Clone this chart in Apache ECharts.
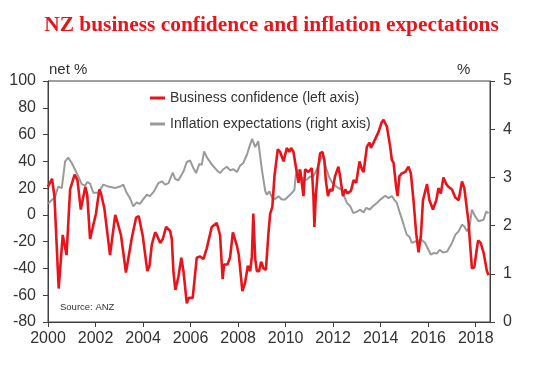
<!DOCTYPE html>
<html>
<head>
<meta charset="utf-8">
<script src="https://cdn.jsdelivr.net/npm/echarts@6/dist/echarts.min.js"></script>
<style>html,body{margin:0;padding:0;background:#fff}#c{width:543px;height:369px}</style>
</head>
<body>
<div id="c"></div>
<script>
// Business confidence (net %, left axis) — decimal years and values
const bcYears = [2000.00,2000.17,2000.27,2000.45,2000.62,2000.78,2000.93,2001.12,2001.24,2001.38,2001.46,2001.57,2001.65,2001.77,2001.85,2002.02,2002.16,2002.23,2002.37,2002.61,2002.83,2002.93,2003.07,2003.28,2003.35,2003.54,2003.71,2003.82,2003.99,2004.18,2004.27,2004.37,2004.51,2004.58,2004.72,2004.83,2004.97,2005.14,2005.21,2005.28,2005.36,2005.49,2005.61,2005.70,2005.84,2005.92,2006.09,2006.26,2006.40,2006.54,2006.68,2006.89,2007.10,2007.24,2007.35,2007.41,2007.55,2007.66,2007.78,2007.95,2008.03,2008.18,2008.29,2008.41,2008.51,2008.58,2008.64,2008.72,2008.79,2008.88,2008.97,2009.07,2009.17,2009.28,2009.35,2009.44,2009.53,2009.67,2009.77,2009.91,2010.05,2010.15,2010.23,2010.33,2010.43,2010.54,2010.61,2010.68,2010.75,2010.82,2010.96,2011.10,2011.17,2011.21,2011.27,2011.36,2011.45,2011.55,2011.63,2011.69,2011.78,2011.87,2011.97,2012.08,2012.22,2012.29,2012.41,2012.51,2012.60,2012.75,2012.86,2012.97,2013.11,2013.21,2013.28,2013.42,2013.53,2013.59,2013.70,2013.77,2013.91,2014.04,2014.12,2014.26,2014.40,2014.47,2014.54,2014.65,2014.71,2014.79,2014.89,2015.03,2015.17,2015.27,2015.38,2015.49,2015.59,2015.69,2015.78,2015.95,2016.05,2016.20,2016.34,2016.43,2016.53,2016.64,2016.76,2016.85,2017.00,2017.14,2017.28,2017.42,2017.52,2017.60,2017.70,2017.77,2017.84,2017.94,2018.04,2018.10,2018.21,2018.34,2018.47,2018.54];
const bcValues = [21,27,14,-55,-15,-30,19,30,26,4,4,21,15,-18,-17,1,19,16,5,-30,0,-6,-15,-43,-43,-16,-2,-1,-16,-42,-38,-22,-13,-15,-21,-18,-9,-12,-18,-43,-56,-46,-32,-42,-66,-62,-62,-32,-31,-33,-25,-9,-6,-15,-48,-37,-37,-32,-13,-23,-30,-57,-51,-38,-42,-31,1,-33,-42,-42,-35,-40,-41,-13,1,6,29,49,47,40,50,47,50,47,36,24,34,24,14,34,32,35,14,-9,14,34,46,47,41,26,14,19,18,29,36,29,14,19,16,18,26,24,40,34,32,51,54,50,54,55,62,69,71,66,51,41,39,21,14,29,31,32,36,31,11,-13,-28,-16,11,23,11,4,11,20,16,28,23,21,19,13,11,25,20,19,-6,-24,-40,-39,-26,-19,-21,-29,-42,-45];

// Inflation expectations (%, right axis)
const ieYears = [2000.01,2000.16,2000.29,2000.43,2000.58,2000.72,2000.85,2001.00,2001.21,2001.42,2001.56,2001.65,2001.77,2001.91,2002.12,2002.33,2002.54,2002.82,2003.03,2003.17,2003.31,2003.45,2003.59,2003.73,2003.87,2004.01,2004.16,2004.29,2004.46,2004.64,2004.79,2004.93,2005.07,2005.25,2005.35,2005.49,2005.70,2005.84,2005.98,2006.12,2006.23,2006.37,2006.47,2006.57,2006.68,2006.89,2007.10,2007.24,2007.38,2007.52,2007.66,2007.80,2007.95,2008.08,2008.22,2008.37,2008.49,2008.59,2008.72,2008.79,2008.85,2009.00,2009.14,2009.21,2009.32,2009.42,2009.56,2009.70,2009.84,2009.98,2010.12,2010.29,2010.37,2010.43,2010.54,2010.65,2010.75,2010.89,2011.03,2011.13,2011.24,2011.36,2011.55,2011.63,2011.71,2011.82,2011.95,2012.08,2012.22,2012.37,2012.46,2012.58,2012.72,2012.85,2013.00,2013.14,2013.28,2013.39,2013.53,2013.67,2013.84,2014.01,2014.19,2014.33,2014.47,2014.57,2014.68,2014.79,2014.89,2014.99,2015.10,2015.21,2015.31,2015.45,2015.59,2015.70,2015.87,2016.01,2016.11,2016.22,2016.37,2016.48,2016.62,2016.79,2017.00,2017.14,2017.28,2017.42,2017.52,2017.63,2017.74,2017.84,2017.98,2018.12,2018.33,2018.44,2018.54];
const ieValues = [2.46,2.53,2.58,2.81,2.78,3.33,3.41,3.30,3.09,2.86,2.83,2.90,2.87,2.68,2.68,2.85,2.81,2.78,2.81,2.85,2.68,2.57,2.40,2.48,2.45,2.55,2.64,2.61,2.71,2.88,2.92,2.85,2.88,3.10,2.97,2.94,3.12,3.32,3.35,3.19,3.09,3.28,3.26,3.54,3.42,3.27,3.15,3.09,3.17,3.22,3.15,3.17,3.11,3.24,3.30,3.47,3.66,3.80,3.63,3.61,3.75,3.16,2.72,2.64,2.71,2.59,2.55,2.61,2.54,2.54,2.61,2.69,2.74,3.06,3.16,3.02,2.95,2.95,3.02,2.99,3.09,3.23,3.46,3.33,3.19,3.02,2.90,2.83,2.78,2.74,2.61,2.47,2.40,2.26,2.29,2.33,2.27,2.37,2.33,2.40,2.47,2.55,2.62,2.57,2.61,2.54,2.47,2.29,2.14,1.98,1.81,1.77,1.64,1.67,1.69,1.71,1.64,1.50,1.40,1.43,1.42,1.50,1.44,1.46,1.64,1.81,1.88,2.02,1.98,1.88,1.98,2.33,2.19,2.09,2.12,2.29,2.26];

const xTicks = {min: 2000, max: 2018.6, interval: 2};
const leftTicks = {min: -80, max: 100, interval: 20};
const rightTicks = {min: 0, max: 5, interval: 1};

const axisColor = '#404040';
const labelColor = '#333';
const sans = 'Liberation Sans, Arial, sans-serif';

const chart = echarts.init(document.getElementById('c'), null, {renderer: 'canvas'});
chart.setOption({
  animation: false,
  backgroundColor: '#fff',
  title: {
    text: 'NZ business confidence and inflation expectations',
    left: 'center', top: 10,
    textStyle: {fontFamily: 'Liberation Serif, Times New Roman, serif', fontWeight: 'bold', fontSize: 21.4, color: '#e8141b'}
  },
  grid: {left: 48, right: 53, top: 81, bottom: 47, show: true, borderColor: axisColor, borderWidth: 1, backgroundColor: 'transparent'},
  legend: {
    orient: 'vertical', left: 145, top: 86, itemWidth: 15, itemHeight: 3, itemGap: 12,
    textStyle: {fontFamily: sans, fontSize: 14, color: labelColor},
    data: [
      {name: 'Business confidence (left axis)', icon: 'rect'},
      {name: 'Inflation expectations (right axis)', icon: 'rect'}
    ]
  },
  xAxis: {
    type: 'value', min: xTicks.min, max: xTicks.max, interval: xTicks.interval,
    axisLine: {onZero: false, lineStyle: {color: axisColor}},
    axisTick: {show: true, length: 5, lineStyle: {color: axisColor}},
    splitLine: {show: false},
    axisLabel: {fontFamily: sans, fontSize: 16, color: labelColor, margin: 9, formatter: v => String(v), showMaxLabel: false}
  },
  yAxis: [
    {
      type: 'value', min: leftTicks.min, max: leftTicks.max, interval: leftTicks.interval,
      axisLine: {show: true, lineStyle: {color: axisColor}},
      axisTick: {show: true, length: 5, lineStyle: {color: axisColor}},
      splitLine: {show: false},
      axisLabel: {fontFamily: sans, fontSize: 16, color: labelColor, margin: 12}
    },
    {
      type: 'value', position: 'right', min: rightTicks.min, max: rightTicks.max, interval: rightTicks.interval,
      axisLine: {show: true, lineStyle: {color: axisColor}},
      axisTick: {show: true, length: 5, lineStyle: {color: axisColor}},
      splitLine: {show: false},
      axisLabel: {fontFamily: sans, fontSize: 16, color: labelColor, margin: 13}
    }
  ],
  graphic: [
    {type: 'text', left: 49, top: 62, style: {text: 'net %', font: '15px Liberation Sans, Arial, sans-serif', fill: labelColor}},
    {type: 'text', left: 457, top: 62, style: {text: '%', font: '15px Liberation Sans, Arial, sans-serif', fill: labelColor}},
    {type: 'text', left: 60, top: 302, style: {text: 'Source: ANZ', font: '9.5px Liberation Sans, Arial, sans-serif', fill: labelColor}}
  ],
  series: [
    {
      name: 'Inflation expectations (right axis)', type: 'line', yAxisIndex: 1, showSymbol: false,
      lineStyle: {color: '#9a9a9a', width: 2}, itemStyle: {color: '#9a9a9a'},
      data: ieYears.map((t, i) => [t, ieValues[i]]), z: 2
    },
    {
      name: 'Business confidence (left axis)', type: 'line', yAxisIndex: 0, showSymbol: false,
      lineStyle: {color: '#e8141b', width: 2.6}, itemStyle: {color: '#e8141b'},
      data: bcYears.map((t, i) => [t, bcValues[i]]), z: 3
    }
  ]
});
</script>
</body>
</html>
